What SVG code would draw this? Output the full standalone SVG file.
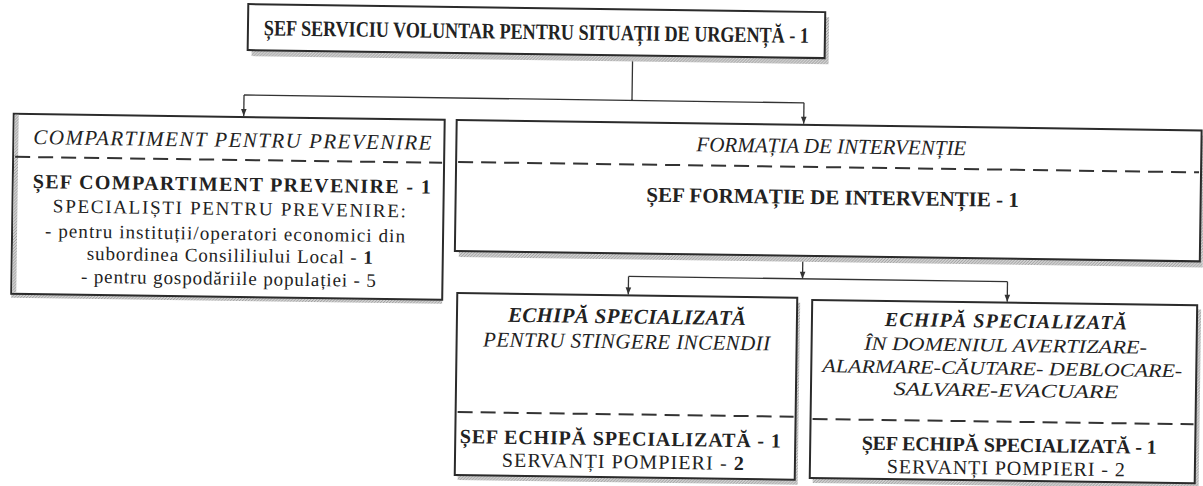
<svg xmlns="http://www.w3.org/2000/svg" width="1203" height="486" viewBox="0 0 1203 486" font-family="'Liberation Serif', 'Times New Roman', 'DejaVu Serif', serif">
<defs>
<pattern id="hatch" width="3" height="3" patternUnits="userSpaceOnUse"><rect width="3" height="3" fill="#d4d4d4"/><path d="M0,3 L3,0" stroke="#8a8a8a" stroke-width="0.8"/></pattern>
<marker id="arr" viewBox="0 0 10 10" refX="10" refY="5" markerWidth="8" markerHeight="7" orient="auto" markerUnits="userSpaceOnUse"><path d="M0,1 L10,5 L0,9 z" fill="#333"/></marker>
</defs>
<style>
.box{fill:#fff;stroke:#2b2b2b;stroke-width:2}
.sh{fill:url(#hatch)}
.dash{stroke:#333;stroke-width:2;stroke-dasharray:15 8;fill:none}
.con{stroke:#333;stroke-width:1.3;fill:none}
text{font-family:'Liberation Serif','Times New Roman','DejaVu Serif',serif;fill:#222;text-anchor:middle}
.b{font-weight:bold}
.i{font-style:italic}
.t21{font-size:21px}
.t20{font-size:20px}
.t19{font-size:19px}
</style>
<rect width="1203" height="486" fill="#fff"/>
<g transform="rotate(0.8 600 243)">
<g id="connectors">
<path class="con" d="M630,57 V100 M242,100 H802"/>
<path class="con" d="M242,100 V121" marker-end="url(#arr)"/>
<path class="con" d="M802,100 V121" marker-end="url(#arr)"/>
<path class="con" d="M803,257 V276" marker-end="url(#arr)"/>
<path class="con" d="M629,276 H1008"/>
<path class="con" d="M629,276 V294" marker-end="url(#arr)"/>
<path class="con" d="M1008,276 V296" marker-end="url(#arr)"/>
</g>
<g id="sef-serviciu">
<rect class="sh" x="249" y="14" width="577" height="47"/>
<rect class="box" x="245" y="9" width="577" height="46"/>
<text class="b" x="533.5" y="40" font-size="22" textLength="545" lengthAdjust="spacingAndGlyphs">ȘEF SERVICIU VOLUNTAR PENTRU SITUAȚII DE URGENȚĂ - 1</text>
</g>
<g id="compartiment-prevenire">
<rect class="sh" x="12" y="126" width="431" height="180"/>
<rect class="box" x="12" y="122" width="431" height="180"/>
<rect class="sh" x="13" y="123" width="4" height="178"/>
<text class="i t21" x="231" y="152" textLength="398">COMPARTIMENT PENTRU PREVENIRE</text>
<path class="dash" d="M14,165 H441"/>
<text class="b t20" x="231" y="196" textLength="398">ȘEF COMPARTIMENT PREVENIRE - 1</text>
<text class="t19" x="229" y="220" textLength="353">SPECIALIȘTI PENTRU PREVENIRE:</text>
<text class="t19" x="225" y="245" textLength="360">- pentru instituții/operatori economici din</text>
<text class="t19" x="230" y="267" textLength="286">subordinea Consililiului Local -  <tspan class="b">1</tspan></text>
<text class="t19" x="229" y="290" textLength="295">- pentru gospodăriile populației - 5</text>
</g>
<g id="formatia-interventie">
<rect class="sh" x="459" y="127" width="744" height="132"/>
<rect class="box" x="455" y="122" width="745" height="131"/>
<text class="i t21" x="830" y="150">FORMAȚIA DE INTERVENȚIE</text>
<path class="dash" d="M457,164 H1198"/>
<text class="b t21" x="832" y="201">ȘEF FORMAȚIE DE INTERVENȚIE - 1</text>
</g>
<g id="echipa-stingere">
<rect class="sh" x="461" y="300" width="340" height="182"/>
<rect class="box" x="458" y="295" width="340" height="182"/>
<text class="b i t21" x="628" y="323" textLength="238">ECHIPĂ SPECIALIZATĂ</text>
<text class="i t21" x="628" y="348" textLength="287">PENTRU STINGERE INCENDII</text>
<path class="dash" d="M460,414 H796"/>
<text class="b t20" x="623" y="445" textLength="321">ȘEF ECHIPĂ SPECIALIZATĂ - 1</text>
<text class="t20" x="626" y="468" textLength="242">SERVANȚI POMPIERI - <tspan class="b">2</tspan></text>
</g>
<g id="echipa-avertizare">
<rect class="sh" x="816" y="301" width="386" height="179"/>
<rect class="box" x="813" y="297" width="385" height="178"/>
<text class="b i t20" x="1007" y="322" textLength="242">ECHIPĂ SPECIALIZATĂ</text>
<text class="i t19" x="1007" y="346" textLength="283" lengthAdjust="spacingAndGlyphs">ÎN DOMENIUL AVERTIZARE-</text>
<text class="i t19" x="1004" y="369" textLength="360" lengthAdjust="spacingAndGlyphs">ALARMARE-CĂUTARE- DEBLOCARE-</text>
<text class="i t19" x="1008" y="391" textLength="225" lengthAdjust="spacingAndGlyphs">SALVARE-EVACUARE</text>
<path class="dash" d="M815,416 H1196"/>
<text class="b t20" x="1012" y="446" textLength="295">ȘEF ECHIPĂ SPECIALIZATĂ - 1</text>
<text class="t20" x="1009" y="469" textLength="238">SERVANȚI POMPIERI - 2</text>
</g>
</g>
</svg>
